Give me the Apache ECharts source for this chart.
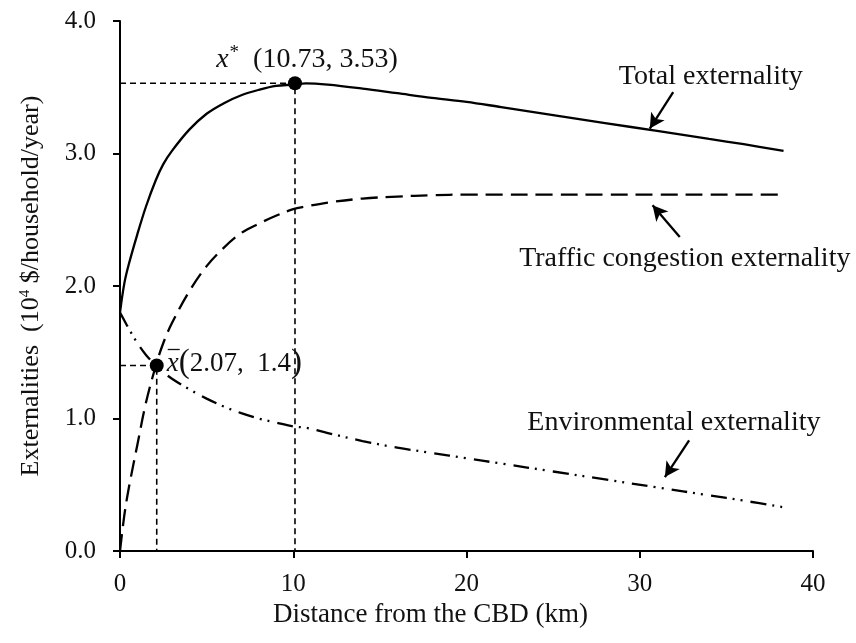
<!DOCTYPE html>
<html>
<head>
<meta charset="utf-8">
<script src="https://cdn.jsdelivr.net/npm/echarts@6/dist/echarts.min.js"></script>
<style>
html,body{margin:0;padding:0;background:#fff;}
#c{width:856px;height:643px;}
</style>
</head>
<body>
<div id="c"></div>
<script>
// ---- data ----
const distance = [0, 0.25, 0.5, 1, 1.5, 2.07, 2.5, 3, 4, 5, 6, 7, 8, 9, 10, 10.73, 12, 14, 16, 18, 20, 22, 25, 28, 31, 34, 36, 38.3];
const trafficExt = [0, 0.27, 0.47, 0.80, 1.12, 1.40, 1.57, 1.72, 1.96, 2.15, 2.29, 2.40, 2.47, 2.53, 2.58, 2.60, 2.63, 2.66, 2.675, 2.685, 2.69, 2.69, 2.69, 2.69, 2.69, 2.69, 2.69, 2.69];
const envExt = [1.80, 1.74, 1.68, 1.57, 1.48, 1.40, 1.35, 1.30, 1.22, 1.15, 1.09, 1.04, 1.00, 0.97, 0.94, 0.93, 0.89, 0.83, 0.78, 0.74, 0.70, 0.66, 0.60, 0.54, 0.48, 0.42, 0.38, 0.33];
const totalExt = [1.80, 2.02, 2.16, 2.39, 2.60, 2.80, 2.92, 3.02, 3.18, 3.30, 3.38, 3.44, 3.48, 3.51, 3.52, 3.53, 3.52, 3.49, 3.455, 3.42, 3.39, 3.35, 3.29, 3.23, 3.17, 3.11, 3.07, 3.02];
const xTicks = [0, 10, 20, 30, 40];
const yTicks = [0, 1, 2, 3, 4];
const optimumPoint = [10.1, 3.53];   // x* marker as drawn
const optimumLabel = '(10.73, 3.53)';
const crossPoint = [2.12, 1.4];      // x-bar marker as drawn
const crossLabel = '2.07,  1.4';
const curveNames = ['Total externality', 'Traffic congestion externality', 'Environmental externality'];
// annotation anchors in data units: [textX, textY, arrowTailX, arrowTailY, arrowHeadX, arrowHeadY]
const annoTotal = [34.1, 3.58, 31.93, 3.464, 30.58, 3.188];
const annoTraffic = [32.6, 2.21, 32.31, 2.370, 30.74, 2.609];
const annoEnv = [31.97, 0.97, 32.85, 0.835, 31.45, 0.558];

const FONT = 'Liberation Serif';
const INK = '#111';

function pairs(xs, ys) { return xs.map((x, i) => [x, ys[i]]); }

const chart = echarts.init(document.getElementById('c'), null, {renderer: 'canvas'});

function arrow(a) {
  return [{coord: [a[2], a[3]]}, {coord: [a[4], a[5]]}];
}

const option = {
  animation: false,
  backgroundColor: '#fff',
  grid: {left: 120, right: 43, top: 21, bottom: 92, containLabel: false},
  xAxis: {
    type: 'value', min: xTicks[0], max: xTicks[xTicks.length - 1], interval: 10,
    name: 'Distance from the CBD (km)', nameLocation: 'middle', nameGap: 42,
    nameTextStyle: {fontFamily: FONT, fontSize: 27, color: INK, padding: [0, 72, 0, 0]},
    axisLine: {lineStyle: {color: '#000', width: 2}},
    axisTick: {show: true, length: 7, lineStyle: {color: '#000', width: 2}},
    axisLabel: {fontFamily: FONT, fontSize: 25, color: INK, margin: 21},
    splitLine: {show: false}
  },
  yAxis: {
    type: 'value', min: yTicks[0], max: yTicks[yTicks.length - 1], interval: 1,
    name: '{a|Externalities  (10}{s|4}{a| $/household/year)}',
    nameLocation: 'middle', nameGap: 76, nameRotate: 90,
    nameTextStyle: {
      color: INK,
      rich: {
        a: {fontFamily: FONT, fontSize: 26, color: INK},
        s: {fontFamily: FONT, fontSize: 15, color: INK, verticalAlign: 'top', padding: [0, 0, 10, 0]}
      }
    },
    axisLine: {show: true, lineStyle: {color: '#000', width: 2}},
    axisTick: {show: true, length: 7, lineStyle: {color: '#000', width: 2}},
    axisLabel: {fontFamily: FONT, fontSize: 25, color: INK, margin: 24, formatter: v => v.toFixed(1)},
    splitLine: {show: false}
  },
  series: [
    {
      name: curveNames[0], type: 'line', data: pairs(distance, totalExt), smooth: 0.35,
      showSymbol: false, symbol: 'none', lineStyle: {color: '#000', width: 2.3, type: 'solid'}, z: 3
    },
    {
      name: curveNames[1], type: 'line', data: pairs(distance, trafficExt), smooth: 0.35,
      showSymbol: false, symbol: 'none', lineStyle: {color: '#000', width: 2.3, type: [17, 8]}, z: 3
    },
    {
      name: curveNames[2], type: 'line', data: pairs(distance, envExt), smooth: 0.35,
      showSymbol: false, symbol: 'none', lineStyle: {color: '#000', width: 2.3, type: [16, 6, 2, 6, 2, 8]}, z: 3
    },
    {
      name: 'guide1', type: 'line', symbol: 'none',
      data: [[0, optimumPoint[1]], optimumPoint, [optimumPoint[0], 0]],
      lineStyle: {color: '#000', width: 1.6, type: [6, 4]}, z: 2
    },
    {
      name: 'guide2', type: 'line', symbol: 'none',
      data: [[0, crossPoint[1]], crossPoint, [crossPoint[0], 0]],
      lineStyle: {color: '#000', width: 1.6, type: [6, 4]}, z: 2
    },
    {
      name: 'points', type: 'scatter', symbol: 'circle', symbolSize: 14,
      itemStyle: {color: '#000', opacity: 1}, z: 5,
      data: [
        {
          value: optimumPoint,
          label: {
            show: true, position: 'top', distance: 0, offset: [12, 0],
            formatter: '{it|x}{sup|*}{n|  ' + optimumLabel + '}',
            rich: {
              it: {fontFamily: FONT, fontStyle: 'italic', fontSize: 28, color: INK},
              sup: {fontFamily: FONT, fontSize: 19, color: INK, verticalAlign: 'top', padding: [0, 0, 14, 1]},
              n: {fontFamily: FONT, fontSize: 28, color: INK}
            }
          }
        },
        {
          value: crossPoint,
          label: {
            show: true, position: 'right', distance: 3, offset: [0, -2],
            formatter: '{it|x}{p|(}{n|' + crossLabel + '}{p|)}',
            rich: {
              it: {fontFamily: FONT, fontStyle: 'italic', fontSize: 27, color: INK},
              p: {fontFamily: FONT, fontSize: 33, color: INK},
              n: {fontFamily: FONT, fontSize: 27, color: INK}
            }
          }
        }
      ],
      markLine: {
        silent: true, symbol: ['none', 'arrow'], symbolSize: [12, 15],
        label: {show: false},
        lineStyle: {color: '#000', width: 2.3, type: 'solid', opacity: 1},
        data: [arrow(annoTotal), arrow(annoTraffic), arrow(annoEnv)]
      }
    }
  ]
};

chart.setOption(option);

function textAt(a, str) {
  const p = chart.convertToPixel({gridIndex: 0}, [a[0], a[1]]);
  return {
    type: 'text', x: p[0], y: p[1], z: 10,
    style: {text: str, fontFamily: FONT, fontSize: 28, fill: INK, align: 'center', verticalAlign: 'middle'}
  };
}

const cp = chart.convertToPixel({gridIndex: 0}, crossPoint);

chart.setOption({
  graphic: [
    textAt(annoTotal, curveNames[0]),
    textAt(annoTraffic, curveNames[1]),
    textAt(annoEnv, curveNames[2]),
    {
      type: 'line', z: 10,
      shape: {x1: cp[0] + 11, y1: cp[1] - 16, x2: cp[0] + 23, y2: cp[1] - 16},
      style: {stroke: INK, lineWidth: 1.3}
    }
  ]
});
</script>
</body>
</html>
